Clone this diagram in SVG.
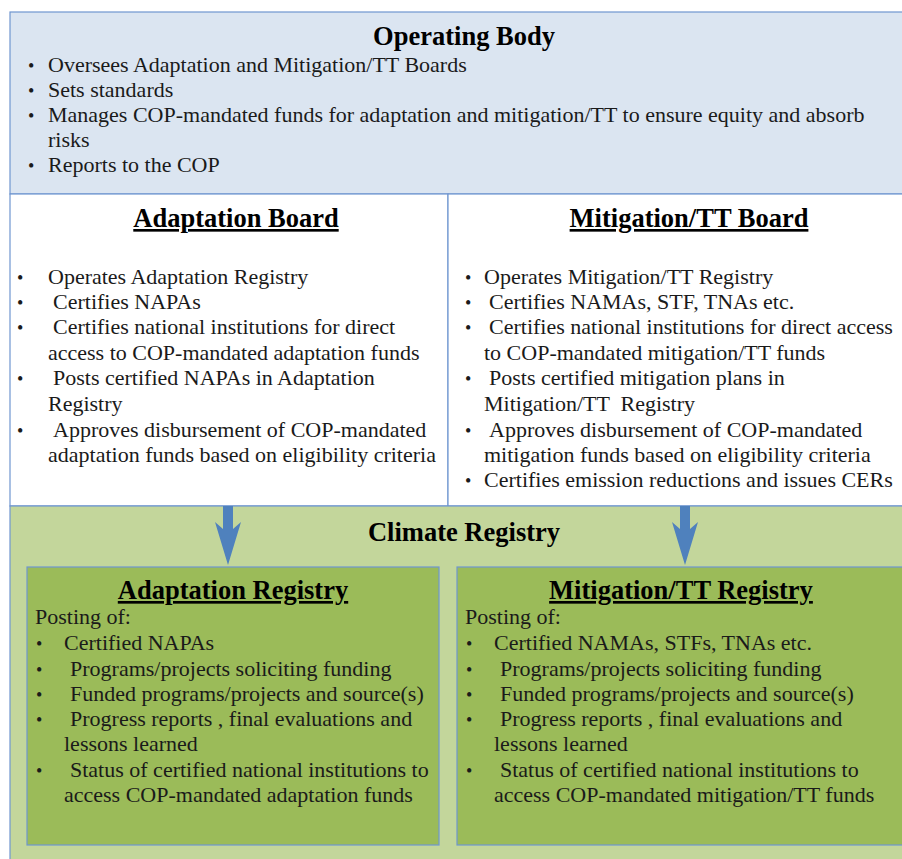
<svg xmlns="http://www.w3.org/2000/svg" width="902" height="859" viewBox="0 0 902 859">
<style>
text{font-family:'Liberation Serif','Times New Roman','DejaVu Serif',serif}
.t{font-size:22px;fill:#1a1a1a}
.b{font-size:18px;fill:#1a1a1a}
.h{font-size:26.5px;font-weight:bold;fill:#000;text-anchor:middle}
.u{text-decoration:underline}
.box{stroke:#6f96d0;stroke-width:1.2}
.arrow{fill:#4f81bd}
</style>
<rect width="902" height="859" fill="#fff"/>
<g id="operating-body">
<rect class="box" x="10" y="12" width="900" height="182" fill="#dbe5f1"/>
<text class="h" x="464" y="45">Operating Body</text>
<text class="b" x="28" y="72">•</text><text class="t" x="48" y="72">Oversees Adaptation and Mitigation/TT Boards</text>
<text class="b" x="28" y="97">•</text><text class="t" x="48" y="97">Sets standards</text>
<text class="b" x="28" y="122">•</text><text class="t" x="48" y="122">Manages COP-mandated funds for adaptation and mitigation/TT to ensure equity and absorb</text>
<text class="t" x="48" y="147">risks</text>
<text class="b" x="28" y="172">•</text><text class="t" x="48" y="172">Reports to the COP</text>
</g>
<g id="adaptation-board">
<rect class="box" x="10" y="194" width="438" height="312" fill="#fff"/>
<text class="h u" x="236" y="227">Adaptation Board</text>
<text class="b" x="17" y="284">•</text><text class="t" x="48" y="284">Operates Adaptation Registry</text>
<text class="b" x="17" y="309">•</text><text class="t" x="53" y="309">Certifies NAPAs</text>
<text class="b" x="17" y="334">•</text><text class="t" x="53" y="334">Certifies national institutions for direct</text>
<text class="t" x="48" y="360">access to COP-mandated adaptation funds</text>
<text class="b" x="17" y="385">•</text><text class="t" x="53" y="385">Posts certified NAPAs in Adaptation</text>
<text class="t" x="48" y="411">Registry</text>
<text class="b" x="17" y="437">•</text><text class="t" x="53" y="437">Approves disbursement of COP-mandated</text>
<text class="t" x="48" y="462">adaptation funds based on eligibility criteria</text>
</g>
<g id="mitigation-board">
<rect class="box" x="448" y="194" width="462" height="312" fill="#fff"/>
<text class="h u" x="689" y="227">Mitigation/TT Board</text>
<text class="b" x="465" y="284">•</text><text class="t" x="484" y="284">Operates Mitigation/TT Registry</text>
<text class="b" x="465" y="309">•</text><text class="t" x="489" y="309">Certifies NAMAs, STF, TNAs etc.</text>
<text class="b" x="465" y="334">•</text><text class="t" x="489" y="334">Certifies national institutions for direct access</text>
<text class="t" x="484" y="360">to COP-mandated mitigation/TT funds</text>
<text class="b" x="465" y="385">•</text><text class="t" x="489" y="385">Posts certified mitigation plans in</text>
<text class="t" x="484" y="411" xml:space="preserve">Mitigation/TT  Registry</text>
<text class="b" x="465" y="437">•</text><text class="t" x="489" y="437">Approves disbursement of COP-mandated</text>
<text class="t" x="484" y="462">mitigation funds based on eligibility criteria</text>
<text class="b" x="465" y="487">•</text><text class="t" x="484" y="487">Certifies emission reductions and issues CERs</text>
</g>
<g id="climate-registry">
<rect class="box" x="10" y="506" width="900" height="360" fill="#c3d69b"/>
<text class="h" x="464" y="541">Climate Registry</text>
</g>
<g id="adaptation-registry">
<rect class="box" x="27" y="567" width="412" height="278" fill="#9bbb59"/>
<text class="h u" x="233" y="599">Adaptation Registry</text>
<text class="t" x="35" y="624">Posting of:</text>
<text class="b" x="36" y="650">•</text><text class="t" x="64" y="650">Certified NAPAs</text>
<text class="b" x="36" y="676">•</text><text class="t" x="70" y="676">Programs/projects soliciting funding</text>
<text class="b" x="36" y="701">•</text><text class="t" x="70" y="701">Funded programs/projects and source(s)</text>
<text class="b" x="36" y="726">•</text><text class="t" x="70" y="726">Progress reports , final evaluations and</text>
<text class="t" x="64" y="751">lessons learned</text>
<text class="b" x="36" y="777">•</text><text class="t" x="70" y="777">Status of certified national institutions to</text>
<text class="t" x="64" y="802">access COP-mandated adaptation funds</text>
</g>
<g id="mitigation-registry">
<rect class="box" x="457" y="567" width="453" height="278" fill="#9bbb59"/>
<text class="h u" x="681" y="599">Mitigation/TT Registry</text>
<text class="t" x="465" y="624">Posting of:</text>
<text class="b" x="466" y="650">•</text><text class="t" x="494" y="650">Certified NAMAs, STFs, TNAs etc.</text>
<text class="b" x="466" y="676">•</text><text class="t" x="500" y="676">Programs/projects soliciting funding</text>
<text class="b" x="466" y="701">•</text><text class="t" x="500" y="701">Funded programs/projects and source(s)</text>
<text class="b" x="466" y="726">•</text><text class="t" x="500" y="726">Progress reports , final evaluations and</text>
<text class="t" x="494" y="751">lessons learned</text>
<text class="b" x="466" y="777">•</text><text class="t" x="500" y="777">Status of certified national institutions to</text>
<text class="t" x="494" y="802">access COP-mandated mitigation/TT funds</text>
</g>
<g id="connectors">
<polygon class="arrow" points="223,506 233,506 233,529 241,522 228,565 215,522 223,529"/>
<polygon class="arrow" points="680,506 690,506 690,529 698,522 685,565 672,522 680,529"/>
</g>
</svg>
